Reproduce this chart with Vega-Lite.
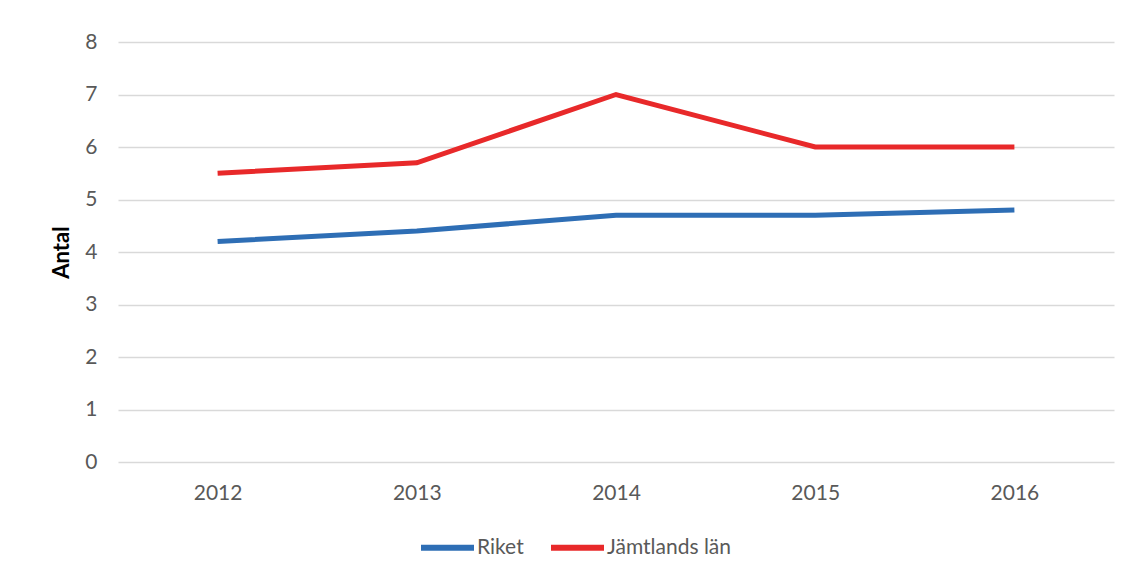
{
  "$schema": "https://vega.github.io/schema/vega-lite/v6.json",
  "width": 996,
  "height": 420,
  "autosize": {"type": "none"},
  "padding": {"left": 118, "top": 42, "right": 17, "bottom": 117},
  "background": "white",
  "config": {
    "view": {"stroke": null},
    "font": "Lato"
  },
  "data": {
    "values": [
      {"year": "2012", "serie": "Riket", "value": 4.2},
      {"year": "2013", "serie": "Riket", "value": 4.4},
      {"year": "2014", "serie": "Riket", "value": 4.7},
      {"year": "2015", "serie": "Riket", "value": 4.7},
      {"year": "2016", "serie": "Riket", "value": 4.8},
      {"year": "2012", "serie": "Jämtlands län", "value": 5.5},
      {"year": "2013", "serie": "Jämtlands län", "value": 5.7},
      {"year": "2014", "serie": "Jämtlands län", "value": 7.0},
      {"year": "2015", "serie": "Jämtlands län", "value": 6.0},
      {"year": "2016", "serie": "Jämtlands län", "value": 6.0}
    ]
  },
  "mark": {"type": "line", "strokeWidth": 5, "strokeCap": "butt", "strokeJoin": "miter"},
  "encoding": {
    "x": {
      "field": "year",
      "type": "ordinal",
      "scale": {"type": "point", "padding": 0.5},
      "axis": {
        "title": null,
        "labelAngle": 0,
        "labelFont": "Lato",
        "labelFontSize": 21,
        "labelColor": "#595959",
        "labelPadding": 20,
        "domain": false,
        "ticks": false,
        "grid": false
      }
    },
    "y": {
      "field": "value",
      "type": "quantitative",
      "scale": {"domain": [0, 8], "nice": false},
      "axis": {
        "title": "Antal",
        "titleFont": "Lato",
        "titleFontSize": 22,
        "titleFontWeight": "bold",
        "titleColor": "#000000",
        "titlePadding": 11,
        "labelFont": "Lato",
        "labelFontSize": 21,
        "labelColor": "#595959",
        "labelPadding": 21,
        "labelOverlap": false,
        "values": [0, 1, 2, 3, 4, 5, 6, 7, 8],
        "domain": false,
        "ticks": false,
        "grid": true,
        "gridColor": "#d9d9d9",
        "gridWidth": 1.5
      }
    },
    "color": {
      "field": "serie",
      "type": "nominal",
      "scale": {"domain": ["Riket", "Jämtlands län"], "range": ["#2E6EB5", "#E8292A"]},
      "legend": {
        "title": null,
        "orient": "none",
        "direction": "horizontal",
        "legendX": 300,
        "legendY": 476,
        "symbolType": "stroke",
        "symbolSize": 2809,
        "symbolStrokeWidth": 6,
        "labelFont": "Lato",
        "labelFontSize": 21,
        "labelColor": "#595959",
        "labelOffset": 0,
        "columnPadding": 15,
        "encoding": {
          "symbols": {"update": {"strokeCap": {"value": "round"}}}
        }
      }
    }
  }
}
